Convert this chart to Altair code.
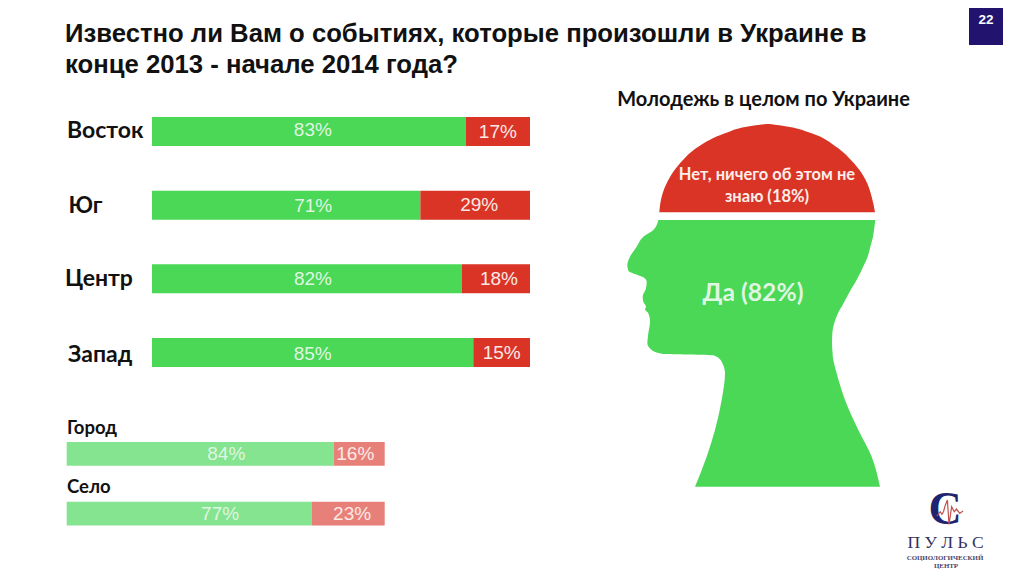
import altair as alt
import pandas as pd

# ---- data ----
regions = ["Восток", "Юг", "Центр", "Запад"]
region_yes = [83, 71, 82, 85]
region_no = [17, 29, 18, 15]
settlements = ["Город", "Село"]
settlement_yes = [84, 77]
settlement_no = [16, 23]
title_lines = ["Известно ли Вам о событиях, которые произошли в Украине в",
               "конце 2013 - начале 2014 года?"]
head_title = "Молодежь в целом по Украине"
no_lines = ["Нет, ничего об этом не", "знаю (18%)"]
yes_label = "Да (82%)"
page_number = "22"
logo_letter = "С"
logo_name = "ПУЛЬС"
logo_sub = ["СОЦИОЛОГИЧЕСКИЙ", "ЦЕНТР"]

# silhouette outline, one left/right pair per row
dome_y = [132, 134, 140, 160, 200, 250, 300, 350, 397]
dome_l = [500, 480, 440, 375, 295, 240, 205, 185, 178]
dome_r = [505, 525, 565, 635, 708, 762, 797, 815, 825]
head_y = [420, 450, 470, 500, 530, 555, 572, 582, 592, 605, 625, 650, 665, 680, 688, 700, 725, 760, 790, 810,
          822, 826, 845, 880, 960, 1050, 1130, 1220]
head_l = [175, 160, 130, 110, 90, 82, 85, 105, 130, 140, 138, 128, 130, 138, 135, 145, 150, 145, 142, 155,
          190, 340, 365, 375, 365, 345, 320, 285]
head_r = [826, 822, 819, 811, 803, 792, 784, 779, 774, 767, 755, 741, 733, 725, 720, 714, 704, 697, 696, 697,
          698, 698, 701, 710, 735, 775, 815, 840]
pulse_x = [65, 75, 80, 85, 90, 97, 102, 110, 118, 125, 135, 145]
pulse_y = [92, 80, 88, 80, 62, 45, 118, 65, 80, 72, 85, 78]

# ---- styling ----
W, H = 1008, 555
GREEN, RED = "#4ad856", "#d93425"
LGREEN, LRED = "#85e48f", "#e8807a"
NAVY = "#22136f"
SANS, CAL = "Liberation Sans", "Lato"

def px(v):
    return v - 8

none = dict(axis=None, title=None)
reg_x = alt.X("v:Q", scale=alt.Scale(domain=[0, 100], range=[px(152), px(530)]), **none)
reg_x2 = alt.X2("v2:Q")
reg_y = alt.Y("c:N", sort=regions, scale=alt.Scale(type="band", domain=regions, range=[px(117), px(367)],
              paddingInner=0.606, paddingOuter=0), **none)
set_x = alt.X("v:Q", scale=alt.Scale(domain=[0, 100], range=[px(66.7), px(384.7)]), **none)
set_x2 = alt.X2("v2:Q")
set_y = alt.Y("c:N", sort=settlements, scale=alt.Scale(type="band", domain=settlements, range=[px(442), px(525.5)],
              paddingInner=0.6, paddingOuter=0), **none)

layers = []

def bars(cats, yes, no, x, x2, y, cg, cr):
    for vals0, vals1, col in ((
            [0] * len(yes), yes, cg), (yes, [a + b for a, b in zip(yes, no)], cr)):
        d = pd.DataFrame({"c": cats, "v": vals0, "v2": vals1})
        layers.append(alt.Chart(d).mark_bar(color=col, opacity=1).encode(x=x, x2=x2, y=y))

def labels(cats, yes, no, x, y, nudges_yes, nudges_no):
    for i, c in enumerate(cats):
        for val, center, (dx, dy), col in (
                (yes[i], yes[i] / 2, nudges_yes[i], "#dff6e2"),
                (no[i], yes[i] + no[i] / 2, nudges_no[i], "#fbe9e5")):
            d = pd.DataFrame({"c": [c], "v": [center], "t": [f"{val}%"]})
            layers.append(alt.Chart(d).mark_text(font=SANS, fontSize=19, color=col, dx=dx, dy=dy,
                                                 baseline="middle").encode(x=x, y=y, text="t:N"))

bars(regions, region_yes, region_no, reg_x, reg_x2, reg_y, GREEN, RED)
labels(regions, region_yes, region_no, reg_x, reg_y,
       [(4, -1.5), (27, 1), (6, 0), (0, 1.5)],
       [(0, 0.5), (4, -0.5), (3, 0.5), (0, 0.5)])
bars(settlements, settlement_yes, settlement_no, set_x, set_x2, set_y, LGREEN, LRED)
labels(settlements, settlement_yes, settlement_no, set_x, set_y,
       [(26, 0), (31, 0)],
       [(-4, 0), (4, 0)])

# silhouette, in its own coordinates
hx = alt.Scale(domain=[0, 960], range=[px(600), px(920)])
hy = alt.Scale(domain=[0, 1260], range=[px(80), px(500)])
for ys, ls, rs, col in ((dome_y, dome_l, dome_r, RED), (head_y, head_l, head_r, GREEN)):
    d = pd.DataFrame({"y": ys, "l": ls, "r": rs})
    layers.append(alt.Chart(d).mark_area(color=col, opacity=1, orient="horizontal", interpolate="monotone").encode(
        y=alt.Y("y:Q", scale=hy, **none),
        x=alt.X("l:Q", scale=hx, **none),
        x2=alt.X2("r:Q")))

def text(t, x, y, size, font=SANS, color="#111111", weight="normal", align="left", **kw):
    d = pd.DataFrame({"t": [t]})
    layers.append(alt.Chart(d).mark_text(font=font, fontSize=size, color=color, fontWeight=weight,
                                         align=align, baseline="middle", **kw).encode(
        x=alt.value(px(x)), y=alt.value(px(y)), text="t:N"))

text(title_lines[0], 65, 34, 25.7, weight="bold")
text(title_lines[1], 65, 65, 25.7, weight="bold")
for c, x, y in zip(regions, (67, 68.5, 65, 68), (130.5, 205.5, 278.5, 354.5)):
    text(c, x, y, 23, CAL, weight="bold")
for c, y in zip(settlements, (428, 487)):
    text(c, 67, y, 18.5, CAL, weight="bold")
text(head_title, 763.5, 99.5, 20, CAL, weight="bold", align="center")
text(no_lines[0], 767, 175, 16.5, CAL, "#fdeeea", "bold", "center")
text(no_lines[1], 767, 197, 16.5, CAL, "#fdeeea", "bold", "center")
text(yes_label, 753, 294, 24.7, CAL, "#dff6e2", "bold", "center")

# page number tab
tab = pd.DataFrame({"t": [page_number]})
layers.append(alt.Chart(tab).mark_rect(color=NAVY).encode(
    x=alt.value(px(969)), x2=alt.value(px(1003)), y=alt.value(0), y2=alt.value(px(45))))
text(page_number, 986, 20, 13.5, color="white", weight="bold", align="center")

# logo
text(logo_letter, 945, 510, 46, "Liberation Serif", "#1f2470", "bold", "center")
d = pd.DataFrame({"x": pulse_x, "y": pulse_y})
layers.append(alt.Chart(d).mark_line(color="#c0504d", strokeWidth=1.2).encode(
    x=alt.X("x:Q", scale=alt.Scale(domain=[65, 145], range=[px(937), px(963)]), **none),
    y=alt.Y("y:Q", scale=alt.Scale(domain=[45, 118], range=[px(500), px(524.5)]), **none)))
text(" ".join(logo_name), 945.5, 543, 17.5, "Liberation Serif", "#33335f", align="center")
text(logo_sub[0], 945, 558, 6.9, "Liberation Serif", "#44446a", "bold", "center")
text(logo_sub[1], 946, 566, 6.9, "Liberation Serif", "#44446a", "bold", "center")

chart = alt.layer(*layers).resolve_scale(x="independent", y="independent", color="independent").properties(
    width=W, height=H, padding=0, background="white"
).configure_view(stroke=None)
chart.save("out.html", embed_options={"renderer": "svg", "actions": False})
